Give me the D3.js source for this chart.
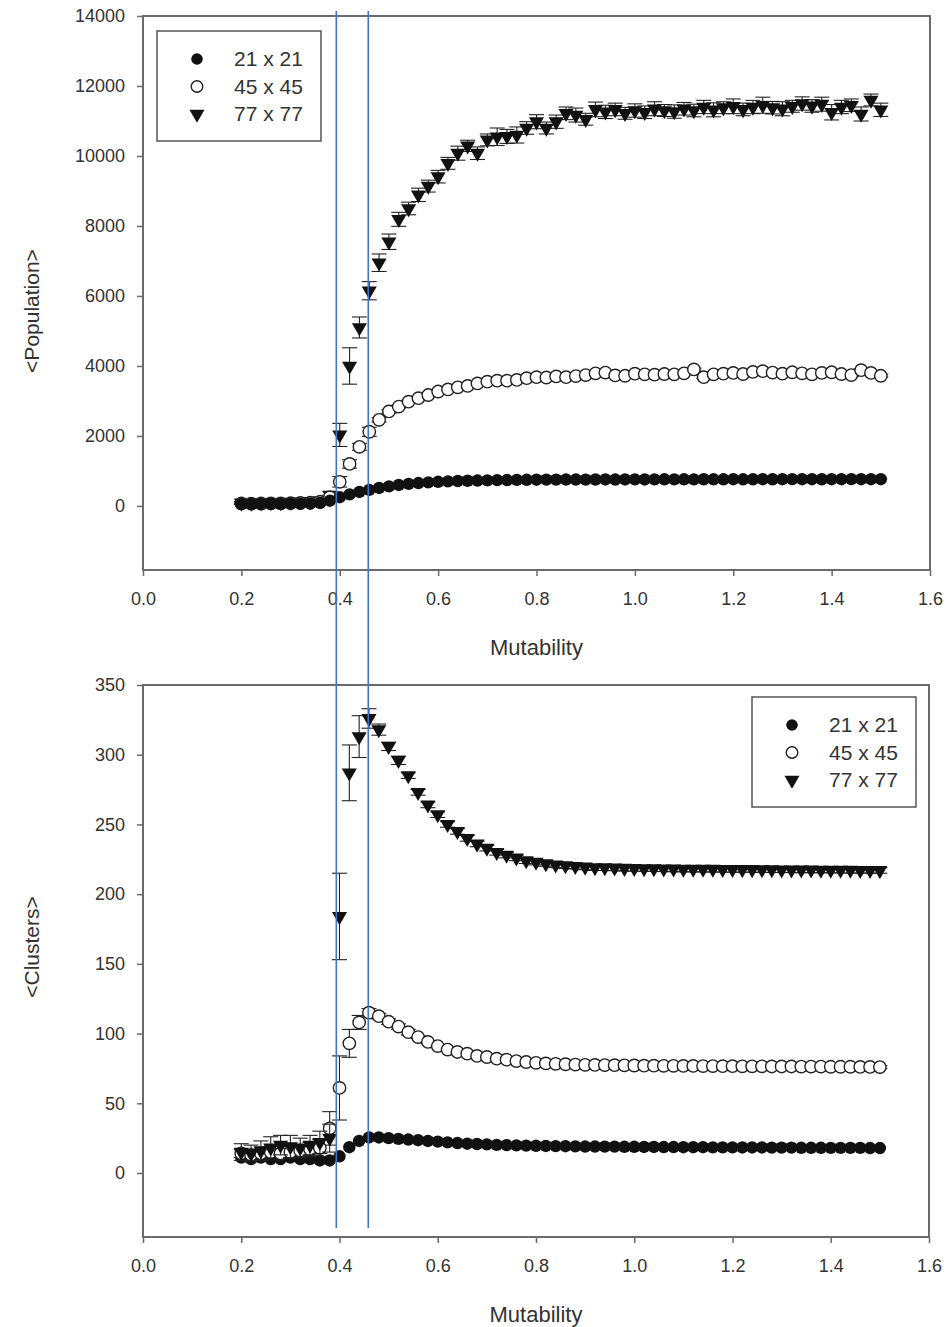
<!DOCTYPE html>
<html>
<head>
<meta charset="utf-8">
<script src="https://cdn.jsdelivr.net/npm/d3@7"></script>
<style>
  body { margin: 0; background: #fff; }
  text { font-family: "Liberation Sans", Arial, sans-serif; fill: #333; }
</style>
</head>
<body>
<div id="chart"></div>
<script>
// mutability values shared by both panels
let mutability = [0.20,0.22,0.24,0.26,0.28,0.30,0.32,0.34,0.36,0.38,
  0.40,0.42,0.44,0.46,0.48,0.50,0.52,0.54,0.56,0.58,
  0.60,0.62,0.64,0.66,0.68,0.70,0.72,0.74,0.76,0.78,
  0.80,0.82,0.84,0.86,0.88,0.90,0.92,0.94,0.96,0.98,
  1.00,1.02,1.04,1.06,1.08,1.10,1.12,1.14,1.16,1.18,
  1.20,1.22,1.24,1.26,1.28,1.30,1.32,1.34,1.36,1.38,
  1.40,1.42,1.44,1.46,1.48,1.50];

let seriesNames = ["21 x 21", "45 x 45", "77 x 77"];

// <Population>
let pop21 = [60,55,58,62,60,65,68,72,90,150,
  250,330,400,460,515,560,600,630,655,675,
  690,703,713,720,727,732,737,741,744,747,
  750,752,751,754,755,753,756,757,755,758,
  759,757,760,761,759,762,760,763,761,762,
  764,762,763,765,763,764,766,764,765,763,
  765,764,766,765,764,765];
let pop45 = [70,65,70,75,72,80,85,95,120,250,
  690,1200,1690,2120,2460,2700,2840,2980,3080,3170,
  3270,3330,3390,3430,3500,3550,3580,3580,3600,3650,
  3680,3670,3700,3680,3710,3740,3790,3810,3730,3720,
  3780,3760,3750,3770,3760,3790,3900,3680,3760,3780,
  3800,3770,3830,3850,3810,3780,3820,3790,3760,3800,
  3820,3770,3740,3880,3800,3720];
let pop77 = [90,85,95,100,95,110,120,130,150,300,
  2030,4000,5100,6150,6950,7550,8190,8500,8890,9140,
  9410,9790,10080,10290,10080,10460,10550,10560,10600,10800,
  10980,10800,10980,11220,11170,11050,11330,11260,11330,11220,
  11300,11250,11350,11300,11270,11350,11300,11400,11320,11380,
  11420,11330,11400,11450,11380,11350,11420,11500,11430,11480,
  11250,11400,11450,11200,11600,11320];
let popErr45 = [20,20,20,20,20,20,20,25,30,60,
  150,120,100,130,60,50,40,40,40,40,
  40,40,40,40,40,40,40,40,40,40,
  40,40,40,40,40,40,40,40,40,40,
  40,40,40,40,40,40,40,40,40,40,
  40,40,40,40,40,40,40,40,40,40,
  40,40,40,40,40,40];
let popErr77 = [40,40,45,50,45,50,55,60,70,120,
  330,520,300,260,250,220,200,180,190,170,
  180,170,200,160,180,170,250,200,230,180,
  200,170,190,180,200,170,210,190,180,170,
  190,180,200,170,190,180,180,190,200,170,
  210,180,190,230,180,200,170,190,180,200,
  220,190,180,200,170,190];

// <Clusters>
let clu21 = [11,10,11,10,10,11,10,10,9,9,
  12,18.5,23,25.5,25.5,25,24.5,24,23.5,23,
  22.5,22,21.5,21,20.8,20.5,20.2,20,19.8,19.6,
  19.5,19.4,19.3,19.2,19.1,19,19,18.9,18.9,18.8,
  18.8,18.7,18.7,18.6,18.6,18.5,18.5,18.5,18.4,18.4,
  18.4,18.3,18.3,18.3,18.2,18.2,18.2,18.1,18.1,18.1,
  18,18,18,18,17.9,17.9];
let clu45 = [14,13,14,15,14,15,16,17,18,32,
  61,93,108,115,112.5,108.5,105,101,97.5,94,
  91,88.5,86.8,85.6,84,83.2,82,81.3,80.3,79.6,
  79,78.6,78.3,78,77.8,77.6,77.5,77.4,77.3,77.2,
  77.1,77,77,76.9,76.9,76.8,76.8,76.7,76.7,76.6,
  76.6,76.5,76.5,76.5,76.4,76.4,76.4,76.3,76.3,76.3,
  76.2,76.2,76.2,76.1,76.1,76];
let clu77 = [15,14,16,18,20,19,18,20,22,25,
  184,287,313,326,318,306,296,285,273,264,
  257,250,245,240,236,233,230,228,226,224,
  223,222,221,220.5,220,219.5,219,219,218.8,218.6,
  218.5,218.4,218.3,218.2,218.1,218,218,217.9,217.9,217.8,
  217.8,217.7,217.7,217.6,217.6,217.5,217.5,217.4,217.4,217.3,
  217.3,217.2,217.2,217.1,217.1,217];
let cluErr45 = [3,3,3,4,3,4,4,5,6,12,
  23,10,5,3,2,2,2,2,1,1,
  1,1,1,1,1,1,1,1,1,1,
  1,1,1,1,1,1,1,1,1,1,
  1,1,1,1,1,1,1,1,1,1,
  1,1,1,1,1,1,1,1,1,1,
  1,1,1,1,1,1];
let cluErr77 = [6,6,7,8,7,8,7,7,8,10,
  31,20,15,7,4,3,3,2,2,2,
  2,2,2,2,2,2,2,2,2,2,
  2,2,2,2,2,2,2,2,2,2,
  2,2,2,2,2,2,2,2,2,2,
  2,2,2,2,2,2,2,2,2,2,
  2,2,2,2,2,2];

let xTicks = [0.0, 0.2, 0.4, 0.6, 0.8, 1.0, 1.2, 1.4, 1.6];
let popTicks = [0, 2000, 4000, 6000, 8000, 10000, 12000, 14000];
let cluTicks = [0, 50, 100, 150, 200, 250, 300, 350];

// the two hand drawn guide lines
let guideX = [0.393, 0.458];

let width = 951,
    height = 1327;

let svg = d3.select("#chart")
    .append("svg")
    .attr("width", width)
    .attr("height", height);

let frameColor = "#6b6b6b";

let symbolCircle = d3.symbol().type(d3.symbolCircle).size(Math.PI * 6.2 * 6.2);
let symbolTri = d3.symbol().type(d3.symbolTriangle).size(98);
let legendCircle = d3.symbol().type(d3.symbolCircle).size(Math.PI * 5.8 * 5.8);

function drawMarker(sel, kind, circ) {
    if (kind === 2) {
        sel.append("path")
            .attr("d", symbolTri)
            .attr("transform", "rotate(180)")
            .style("fill", "#111");
    } else {
        sel.append("path")
            .attr("d", circ || symbolCircle)
            .style("fill", kind === 0 ? "#111" : "#fff")
            .style("stroke", "#222")
            .style("stroke-width", kind === 0 ? 0 : 1.4);
    }
}

function drawPanel(p) {
    let x = d3.scaleLinear().domain([0, 1.6]).range([p.left, p.right]);
    let y = d3.scaleLinear().domain(p.yDomain).range([p.bottom, p.top]);
    let g = svg.append("g");

    // y axis ticks + labels
    let ya = g.append("g")
        .attr("transform", "translate(" + p.left + ",0)")
        .call(d3.axisLeft(y).tickValues(p.yTicks).tickSize(6).tickSizeOuter(0).tickPadding(12).tickFormat(d3.format("d")));
    ya.select(".domain").remove();

    let xa = g.append("g")
        .attr("transform", "translate(0," + p.bottom + ")")
        .call(d3.axisBottom(x).tickValues(xTicks).tickSize(6).tickSizeOuter(0).tickPadding(16).tickFormat(d3.format(".1f")));
    xa.select(".domain").remove();

    g.selectAll(".tick line").style("stroke", frameColor).style("stroke-width", 1.5);
    g.selectAll(".tick text")
        .style("font-size", "18px")
        .style("font-family", "'Liberation Sans', Arial, sans-serif")
        .style("fill", "#333");

    // frame
    g.append("rect")
        .attr("x", p.left).attr("y", p.top)
        .attr("width", p.right - p.left).attr("height", p.bottom - p.top)
        .style("fill", "none").style("stroke", frameColor).style("stroke-width", 2);

    // axis titles
    g.append("text")
        .attr("x", (p.left + p.right) / 2)
        .attr("y", p.bottom + 85)
        .attr("text-anchor", "middle")
        .style("font-size", "22px")
        .text("Mutability");
    g.append("text")
        .attr("transform", "translate(" + 39 + "," + p.yTitle + ") rotate(-90)")
        .attr("text-anchor", "middle")
        .style("font-size", "21px")
        .text(p.yLabel);

    // series: error bars first, then markers
    p.series.forEach(function(s) {
        let pts = mutability.map(function(m, i) { return {x: m, v: s.values[i], e: s.err ? s.err[i] : 0}; });
        let eb = g.append("g").selectAll("g")
            .data(pts.filter(function(d) { return d.e > 0; }))
            .enter()
            .append("g")
            .style("stroke", "#222")
            .style("stroke-width", 1.1);
        eb.append("line")
            .attr("x1", function(d) { return x(d.x); })
            .attr("x2", function(d) { return x(d.x); })
            .attr("y1", function(d) { return y(d.v - d.e); })
            .attr("y2", function(d) { return y(d.v + d.e); });
        [-1, 1].forEach(function(sign) {
            eb.append("line")
                .attr("x1", function(d) { return x(d.x) - 7.5; })
                .attr("x2", function(d) { return x(d.x) + 7.5; })
                .attr("y1", function(d) { return y(d.v + sign * d.e); })
                .attr("y2", function(d) { return y(d.v + sign * d.e); });
        });

        let mk = g.append("g").selectAll("g")
            .data(pts)
            .enter()
            .append("g")
            .attr("transform", function(d) { return "translate(" + x(d.x) + "," + y(d.v) + ")"; });
        drawMarker(mk, s.kind);
    });

    // legend
    let lg = g.append("g");
    lg.append("rect")
        .attr("x", p.legend.x).attr("y", p.legend.y)
        .attr("width", 164).attr("height", 110)
        .style("fill", "#fff").style("stroke", "#555").style("stroke-width", 1.5);
    seriesNames.forEach(function(name, i) {
        let cy = p.legend.y + 28 + i * 27.5;
        let m = lg.append("g").attr("transform", "translate(" + (p.legend.x + 40) + "," + cy + ")");
        drawMarker(m, i, legendCircle);
        lg.append("text")
            .attr("x", p.legend.x + 77)
            .attr("y", cy + 7)
            .style("font-size", "21px")
            .text(name);
    });
}

// top panel: population
drawPanel({
    left: 143, right: 930, top: 16, bottom: 570,
    yDomain: [-1830, 14000], yTicks: popTicks, yLabel: "<Population>", yTitle: 311,
    series: [
        {values: pop77, err: popErr77, kind: 2},
        {values: pop45, err: popErr45, kind: 1},
        {values: pop21, err: null, kind: 0}
    ],
    legend: {x: 157, y: 31}
});

// bottom panel: clusters
drawPanel({
    left: 143, right: 929, top: 685, bottom: 1237,
    yDomain: [-45.9, 350], yTicks: cluTicks, yLabel: "<Clusters>", yTitle: 947,
    series: [
        {values: clu21, err: null, kind: 0},
        {values: clu45, err: cluErr45, kind: 1},
        {values: clu77, err: cluErr77, kind: 2}
    ],
    legend: {x: 752, y: 697}
});

// blue guide lines spanning both panels
let xg = d3.scaleLinear().domain([0, 1.6]).range([143, 930]);
svg.selectAll(".guide")
    .data(guideX)
    .enter()
    .append("line")
    .attr("class", "guide")
    .attr("x1", function(d) { return xg(d); })
    .attr("x2", function(d) { return xg(d); })
    .attr("y1", 11)
    .attr("y2", 1228)
    .style("stroke", "#4472C4")
    .style("stroke-width", 1.6);
</script>
</body>
</html>
